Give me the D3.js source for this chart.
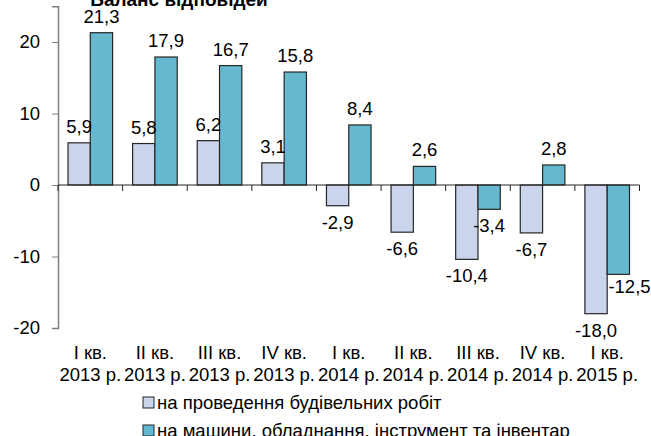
<!DOCTYPE html>
<html>
<head>
<meta charset="utf-8">
<script src="https://cdn.jsdelivr.net/npm/d3@7"></script>
<style>
  body { margin: 0; background: #fff; }
  svg text { font-family: "Liberation Sans", Arial, sans-serif; fill: #000; }
</style>
</head>
<body>
<div class="chart"></div>
<script>
// chart data
let quarters = ["I кв.", "II кв.", "III кв.", "IV кв.", "I кв.", "II кв.", "III кв.", "IV кв.", "I кв."]
let years = ["2013 р.", "2013 р.", "2013 р.", "2013 р.", "2014 р.", "2014 р.", "2014 р.", "2014 р.", "2015 р."]
let seriesNames = ["на проведення будівельних робіт", "на машини, обладнання, інструмент та інвентар"]
let building = [5.9, 5.8, 6.2, 3.1, -2.9, -6.6, -10.4, -6.7, -18.0]
let machines = [21.3, 17.9, 16.7, 15.8, 8.4, 2.6, -3.4, 2.8, -12.5]
let yTicks = [-20, -10, 0, 10, 20]
let title = "Баланс відповідей"

let colors = ["#cad5eb", "#66b8ce"]

let w = 651
let h = 436

let svg = d3.select(".chart")
            .append("svg")
            .attr("width", w)
            .attr("height", h)

let cats = d3.range(quarters.length)

let x0 = d3.scaleBand()
  .domain(cats)
  .range([58, 639.5])

let x1 = d3.scaleBand()
  .domain([0, 1])
  .range([10, x0.bandwidth() - 10])

let y = d3.scaleLinear()
  .domain([-20, 25])
  .range([328, 6.25])

// plain hyphen and decimal comma, like the original
let fmt = v => v.toFixed(1).replace(".", ",")

// title, cut at the top like the original
svg.append("text")
   .attr("x", 179)
   .attr("y", 6)
   .attr("text-anchor", "middle")
   .style("font-size", "19px")
   .style("font-weight", "bold")
   .text(title)

// y axis
let yAxis = svg.append("g")
   .attr("transform", "translate(58,0)")
   .call(d3.axisLeft(y).tickValues(yTicks).tickSize(6).tickPadding(12).tickFormat(d => String(d)))
yAxis.select(".domain").attr("stroke", "#7f7f7f").attr("stroke-width", 1.5)
yAxis.selectAll(".tick line").attr("stroke", "#7f7f7f")
yAxis.selectAll("text").style("font-size", "18.5px").attr("fill", "#000")

// bars
let series = [building, machines]
series.forEach(function(vals, s) {
  svg.append("g").selectAll("rect")
     .data(vals)
     .enter()
     .append("rect")
     .attr("x", (d, i) => x0(i) + x1(s))
     .attr("width", x1.bandwidth())
     .attr("y", d => y(Math.max(0, d)))
     .attr("height", d => Math.abs(y(d) - y(0)))
     .attr("fill", colors[s])
     .attr("stroke", "#262626")
     .attr("stroke-width", 1.2)
})

// x axis at zero
svg.append("line")
   .attr("x1", 58).attr("x2", 639.5)
   .attr("y1", y(0)).attr("y2", y(0))
   .attr("stroke", "#262626").attr("stroke-width", 1.2)

svg.append("g").selectAll("line")
   .data(d3.range(quarters.length + 1))
   .enter()
   .append("line")
   .attr("x1", i => 58 + i * x0.step())
   .attr("x2", i => 58 + i * x0.step())
   .attr("y1", y(0))
   .attr("y2", y(0) + 6)
   .attr("stroke", "#262626")

// category labels
let xl = svg.append("g").selectAll("text")
   .data(cats)
   .enter()
   .append("text")
   .attr("text-anchor", "middle")
   .style("font-size", "18.5px")
xl.append("tspan")
  .attr("x", i => x0(i) + x0.bandwidth() / 2)
  .attr("y", 359)
  .text(i => quarters[i])
xl.append("tspan")
  .attr("x", i => x0(i) + x0.bandwidth() / 2)
  .attr("y", 381)
  .text(i => years[i])

// value labels
series.forEach(function(vals, s) {
  let last = vals.length - 1
  svg.append("g").selectAll("text")
     .data(vals)
     .enter()
     .append("text")
     .attr("x", function(d, i) {
       // last machines label sits at the bar's corner, clear of the -18,0 one
       if (s == 1 && i == last) return x0(i) + x1(s) + x1.bandwidth()
       return x0(i) + x1(s) + x1.bandwidth() / 2
     })
     .attr("y", function(d, i) {
       if (s == 1 && i == last) return y(d) + 19
       return d >= 0 ? y(d) - 10 : y(d) + 23
     })
     .attr("text-anchor", "middle")
     .style("font-size", "18.5px")
     .text(d => fmt(d))
})

// legend
let legend = svg.append("g").selectAll("g")
   .data(seriesNames)
   .enter()
   .append("g")
   .attr("transform", (d, i) => "translate(143," + (397 + i * 28) + ")")
legend.append("rect")
   .attr("width", 11).attr("height", 11)
   .attr("fill", (d, i) => colors[i])
   .attr("stroke", "#262626")
legend.append("text")
   .attr("x", 14)
   .attr("y", 12)
   .style("font-size", "18.5px")
   .text(d => d)
</script>
</body>
</html>
